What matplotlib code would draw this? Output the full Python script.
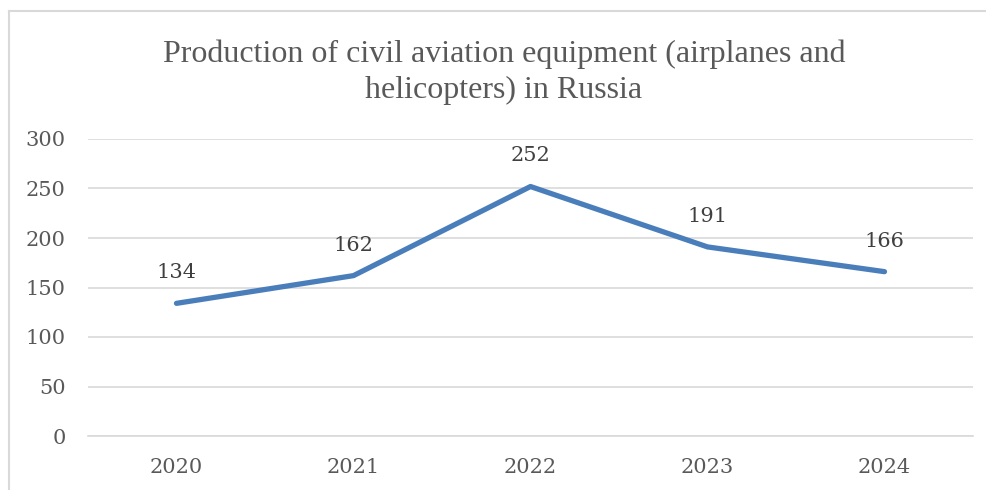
import matplotlib.pyplot as plt
from matplotlib.lines import Line2D

years = ["2020", "2021", "2022", "2023", "2024"]
units = [134, 162, 252, 191, 166]
y_ticks = [0, 50, 100, 150, 200, 250, 300]

title = "Production of civil aviation equipment (airplanes and\nhelicopters) in Russia"
text_gray = "#595959"
grid_gray = "#d9d9d9"
line_blue = "#4a7ebb"

fig = plt.figure(figsize=(9.86, 4.9), dpi=100)
ax = fig.add_axes([88 / 986, 54 / 490, 885 / 986, 297 / 490])

x = list(range(len(years)))
ax.plot(x, units, color=line_blue, linewidth=3.8, solid_capstyle="round",
        solid_joinstyle="round", zorder=3)

for xi, v in zip(x, units):
    ax.annotate(str(v), (xi, v), xytext=(0, 22), textcoords="offset points",
                ha="center", va="center", fontsize=15, family="DejaVu Serif",
                color="#404040")

ax.set_xlim(-0.5, len(years) - 0.5)
ax.set_ylim(0, 300)
ax.set_yticks(y_ticks)
ax.set_xticks(x)
ax.set_xticklabels(years)
ax.grid(axis="y", color=grid_gray, linewidth=1.2)
ax.set_axisbelow(True)
for side in ["top", "right", "left"]:
    ax.spines[side].set_visible(False)
ax.spines["bottom"].set_color(grid_gray)
ax.spines["bottom"].set_linewidth(1.2)
ax.tick_params(axis="both", length=0, labelsize=15, labelcolor=text_gray)
ax.tick_params(axis="y", pad=16)
ax.tick_params(axis="x", pad=16)
for lbl in ax.get_xticklabels() + ax.get_yticklabels():
    lbl.set_family("DejaVu Serif")

fig.text(504 / 986, 1 - 72 / 490, title, ha="center", va="center",
         fontsize=23, family="Liberation Serif", color=text_gray, linespacing=1.3)

# chart frame (only top and left edges visible in the crop)
fig.add_artist(Line2D([9 / 986, 1], [1 - 11 / 490, 1 - 11 / 490],
                      transform=fig.transFigure, color=grid_gray, linewidth=1.5))
fig.add_artist(Line2D([9 / 986, 9 / 986], [0, 1 - 11 / 490],
                      transform=fig.transFigure, color=grid_gray, linewidth=1.5))

fig.savefig("out.png", dpi=100)
